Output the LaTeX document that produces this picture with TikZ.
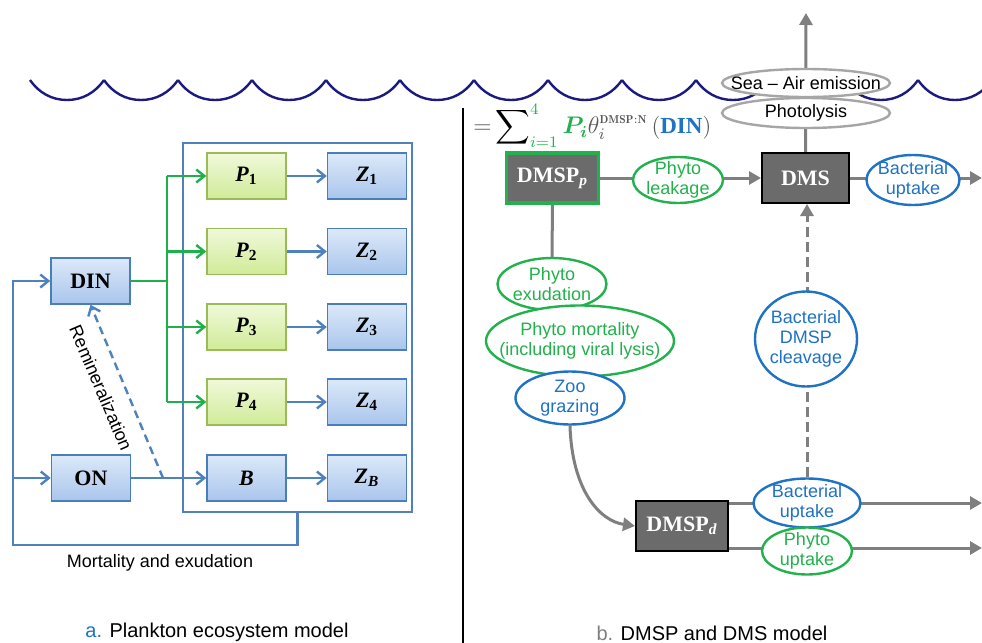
\documentclass[tikz,border=0pt]{standalone}
\usepackage{fontspec}
\setsansfont{Liberation Sans}
\newfontfamily\boxfont{Liberation Serif}
\usepackage{amsmath}
\usepackage{bm}
\usepackage{xcolor}
\usetikzlibrary{shapes.geometric,arrows.meta,positioning,backgrounds}

\definecolor{boxblue}{HTML}{4A7EBB}
\definecolor{bluetop}{HTML}{DCE9F9}
\definecolor{bluebot}{HTML}{A9C5EC}
\definecolor{boxgreen}{HTML}{9BBB59}
\definecolor{greentop}{HTML}{F0F9DA}
\definecolor{greenbot}{HTML}{D0EB98}
\definecolor{arrblue}{HTML}{4F81BD}
\definecolor{arrgreen}{HTML}{1DB04B}
\definecolor{phgreen}{HTML}{22B14C}
\definecolor{bacblue}{HTML}{1F72C4}
\definecolor{arrgray}{HTML}{7F7F7F}
\definecolor{darkbox}{HTML}{6B6B6B}
\definecolor{wavenavy}{HTML}{1A1A80}
\definecolor{eqgray}{HTML}{595959}

\begin{document}
\begin{tikzpicture}[
  x=0.5pt, y=-0.5pt,
  bbox/.style={
    rectangle, draw=boxblue, line width=0.8pt,
    top color=bluetop, bottom color=bluebot,
    minimum width=39.5pt, minimum height=23pt,
    font=\boxfont\bfseries\fontsize{11}{13}\selectfont
  },
  gbox/.style={bbox, draw=boxgreen, top color=greentop, bottom color=greenbot},
  dbox/.style={
    rectangle, fill=darkbox, draw=black, line width=1pt,
    minimum width=46pt, minimum height=25pt, text=white,
    font=\boxfont\bfseries\fontsize{11}{13}\selectfont
  },
  frame/.style={rectangle, draw=arrblue, line width=1.2pt},
  ell/.style={
    ellipse, fill=white, line width=1.2pt,
    inner xsep=-10pt, inner ysep=-5pt, align=center,
    font=\sffamily\fontsize{9}{10}\selectfont
  },
  gell/.style={ell, draw=phgreen, text=phgreen},
  bell/.style={ell, draw=bacblue, text=bacblue},
  yell/.style={ell, draw=gray!70, text=black, minimum width=84pt, minimum height=15pt},
  barr/.style={-{Straight Barb[length=4pt,width=6.5pt]}, draw=arrblue, line width=1.2pt},
  garr/.style={barr, draw=arrgreen},
  gyarr/.style={-{Triangle[length=6pt,width=6.5pt]}, draw=arrgray, line width=1.5pt},
  gyline/.style={draw=arrgray, line width=1.5pt},
  wave/.style={draw=wavenavy, line width=1.2pt},
  lbl/.style={font=\sffamily\fontsize{9}{10}\selectfont},
  captxt/.style={font=\sffamily\fontsize{10}{12}\selectfont},
]
\useasboundingbox (0,0) rectangle (982,643);

%% ── Sea surface ──────────────────────────────────────────────────
\begin{scope}[on background layer]
  \clip (0,0) rectangle (982,643);
  \foreach \x in {30,104,...,918}
    \draw[wave] (\x,80) .. controls +(9,13) and +(-15,0) .. (\x+37,100)
                        .. controls +(15,0) and +(-9,13) .. (\x+74,80);
\end{scope}

%% ── a. Plankton ecosystem model ──────────────────────────────────
\node[frame, minimum width=114.5pt, minimum height=184.5pt] (frame) at (297.5,327.5) {};

\node[bbox] (din) at (90.5,281) {DIN};
\node[bbox] (on)  at (91,478)   {ON};
\foreach \i/\y in {1/176,2/251.5,3/327,4/402}{
  \node[gbox]                  (p\i) at (246.5,\y) {\textit{P}\textsubscript{\i}};
  \node[bbox, right=20pt of p\i] (z\i)             {\textit{Z}\textsubscript{\i}};
}
\node[bbox]                 (b)  at (246.5,478) {\textit{B}};
\node[bbox, right=20pt of b] (zb)               {\textit{Z}\textsubscript{\textit{B}}};

%% ── Arrows (nutrient uptake, grazing) ────────────────────────────
\path (din.east) ++(36,0) coordinate (trunk);
\draw[arrgreen, line width=1.2pt] (din.east) -- (trunk);
\draw[arrgreen, line width=1.2pt] (trunk |- p1) -- (trunk |- p4);
\foreach \i in {1,...,4}{
  \draw[garr] (trunk |- p\i) -- (p\i);
  \draw[barr] (p\i) -- (z\i);
}
\draw[barr] (on) -- (b);
\draw[barr] (b)  -- (zb);

%% ── Remineralization and loss loop ───────────────────────────────
\coordinate (remin) at (163,478);
\draw[barr, dashed, dash pattern=on 4pt off 2.5pt] (remin) -- (din.south);
\node[lbl, rotate=-66.9] (reminlbl) at (101,388) {Remineralization};

\coordinate (loopL) at (13,545);
\draw[barr] (frame.south) |- (loopL) |- (din.west);
\draw[barr] (loopL |- on.west) -- (on.west);
\node[lbl] (mortlbl) at (160,563) {Mortality and exudation};

\node[captxt] (capa) at (217,632) {\textcolor{bacblue}{a.} Plankton ecosystem model};

%% ── Divider ──────────────────────────────────────────────────────
\draw[black, line width=1.3pt] (463,108) -- (463,643);

%% ── b. DMSP and DMS model ────────────────────────────────────────
\node[anchor=west, inner sep=0pt] (eq) at (473,126)
  {\fontsize{11.5}{14}\selectfont\textcolor{eqgray}{$=$}\,%
   $\displaystyle\sum\nolimits_{\textcolor{phgreen}{i=1}}^{\textcolor{phgreen}{4}}
    \textcolor{phgreen}{\bm{P_i}}\textcolor{eqgray}{\theta_i^{\scriptscriptstyle\mathbf{DMSP:N}}}$\,%
   \textcolor{eqgray}{(}\textcolor{bacblue}{\boxfont\bfseries DIN}\textcolor{eqgray}{)}};

\node[dbox, draw=phgreen, line width=1.6pt] (dmspp) at (552.5,178) {DMSP\textsubscript{\itshape p}};
\node[dbox, minimum width=43.5pt]           (dms)   at (805.5,178) {DMS};
\node[dbox]                                 (dmspd) at (682,526)   {DMSP\textsubscript{\itshape d}};

\node[gell, minimum width=45pt,   minimum height=23pt]   (leak)  at (678,180) {Phyto\\leakage};
\node[bell, minimum width=46.5pt, minimum height=25pt]   (bup)   at (913,180) {Bacterial\\uptake};
\node[yell, minimum height=14pt]                         (sea)   at (806,83)  {Sea -- Air emission};
\node[yell]                                              (photo) at (806,113) {Photolysis};
\node[gell, minimum width=54.5pt, minimum height=26pt]   (exud)  at (552,284) {Phyto\\exudation};
\node[gell, minimum width=94pt,   minimum height=35.5pt] (mort)  at (580,341) {Phyto mortality\\(including viral lysis)};
\node[bell, minimum width=54.5pt, minimum height=26.5pt] (zoo)   at (570,398) {Zoo\\grazing};
\node[bell, minimum width=51pt,   minimum height=47.5pt] (cleav) at (806,339) {Bacterial\\DMSP\\cleavage};
\node[bell, minimum width=53.5pt, minimum height=24.5pt] (bup2)  at (807,503) {Bacterial\\uptake};
\node[gell, minimum width=45pt,   minimum height=23.5pt] (pup)   at (807,551) {Phyto\\uptake};

%% ── Sulfur fluxes (behind the process ellipses) ──────────────────
\coordinate (outTop) at (806,13);
\coordinate (outA)   at (982,178);
\coordinate (outB)   at (982,503);
\coordinate (outC)   at (982,548);
\begin{scope}[on background layer]
  \draw[gyarr]  (dmspp) -- (dms);
  \draw[gyarr]  (dms.east) -- (outA);
  \draw[gyarr]  (dms.north) -- (outTop);
  \draw[gyline] (dmspp.south) -- (exud.north);
  \draw[gyarr]  (zoo.south) .. controls +(2,65) and +(-35,-5) .. (dmspd.west);
  \draw[gyarr, dashed, dash pattern=on 5pt off 2.5pt] (bup2.north) -- (bup2.north |- dms.south);
  \draw[gyarr]  (dmspd.east |- outB) -- (outB);
  \draw[gyarr]  (dmspd.east |- outC) -- (outC);
\end{scope}

\node[captxt] (capb) at (712,633) {\textcolor{arrgray}{b.} DMSP and DMS model};

\end{tikzpicture}
\end{document}
